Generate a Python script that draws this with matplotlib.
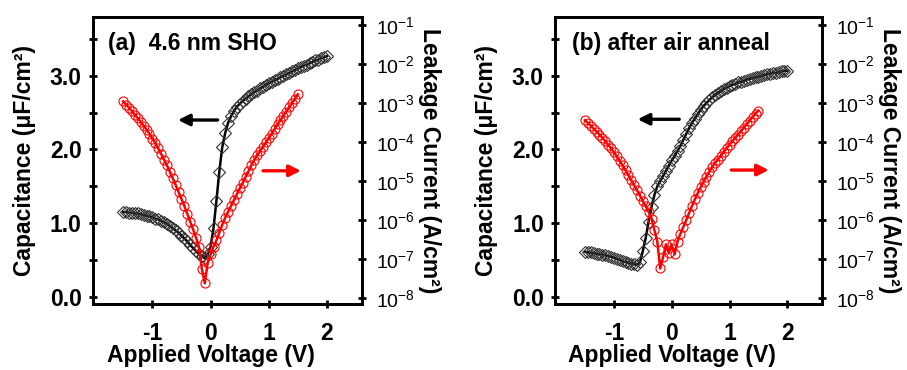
import numpy as np
import matplotlib
matplotlib.use("Agg")
import matplotlib.pyplot as plt
from matplotlib.ticker import MultipleLocator, FixedLocator, NullLocator, FormatStrFormatter, FuncFormatter

plt.rcParams['font.family'] = ['Liberation Sans', 'DejaVu Sans']
plt.rcParams['mathtext.fontset'] = 'custom'
plt.rcParams['mathtext.rm'] = 'Liberation Sans'
plt.rcParams['mathtext.default'] = 'regular'

# ---- (a) 4.6 nm SHO ----
v_cv_a = np.round(np.arange(-1.50, 2.001, 0.05), 2)
cap_a = [1.15, 1.15, 1.14, 1.14, 1.13, 1.13, 1.12, 1.11, 1.10, 1.09,
         1.08, 1.06, 1.05, 1.03, 1.01, 0.99, 0.96, 0.93, 0.90, 0.87,
         0.83, 0.79, 0.75, 0.70, 0.66, 0.62, 0.58, 0.55, 0.52, 0.58,
         0.68, 0.93, 1.30, 1.70, 2.03, 2.22, 2.36, 2.45, 2.52, 2.58,
         2.62, 2.66, 2.69, 2.72, 2.75, 2.78, 2.80, 2.83, 2.85, 2.88,
         2.90, 2.92, 2.94, 2.96, 2.98, 3.00, 3.02, 3.04, 3.06, 3.08,
         3.10, 3.12, 3.14, 3.15, 3.17, 3.19, 3.21, 3.22, 3.24, 3.25,
         3.27]
v_iv_a = np.round(np.arange(-1.50, 1.501, 0.05), 2)
logj_a = [-2.96, -3.04, -3.12, -3.21, -3.30, -3.39, -3.48, -3.58, -3.68, -3.79,
          -3.91, -4.03, -4.16, -4.30, -4.45, -4.60, -4.76, -4.93, -5.10, -5.28,
          -5.46, -5.64, -5.84, -6.04, -6.24, -6.45, -6.68, -7.25, -7.62, -7.10,
          -6.88, -6.68, -6.52, -6.32, -6.12, -5.94, -5.79, -5.64, -5.49, -5.34,
          -5.19, -5.05, -4.90, -4.75, -4.60, -4.46, -4.34, -4.23, -4.12, -4.01,
          -3.90, -3.79, -3.67, -3.55, -3.44, -3.33, -3.22, -3.11, -3.00, -2.89,
          -2.78]

# ---- (b) after air anneal ----
v_cv_b = np.round(np.arange(-1.50, 2.001, 0.05), 2)
cap_b = [0.61, 0.60, 0.60, 0.59, 0.58, 0.58, 0.57, 0.56, 0.55, 0.54,
         0.53, 0.51, 0.50, 0.48, 0.47, 0.46, 0.45, 0.44, 0.43, 0.47,
         0.62, 0.80, 1.02, 1.22, 1.38, 1.50, 1.57, 1.64, 1.71, 1.78,
         1.85, 1.91, 1.98, 2.05, 2.13, 2.21, 2.29, 2.36, 2.42, 2.48,
         2.54, 2.59, 2.63, 2.67, 2.71, 2.74, 2.77, 2.79, 2.82, 2.84,
         2.86, 2.88, 2.89, 2.91, 2.92, 2.93, 2.95, 2.96, 2.97, 2.98,
         2.99, 3.00, 3.01, 3.02, 3.03, 3.04, 3.04, 3.05, 3.06, 3.07,
         3.07]
v_iv_b = np.round(np.arange(-1.50, 1.501, 0.05), 2)
logj_b = [-3.44, -3.51, -3.58, -3.66, -3.73, -3.81, -3.89, -3.98, -4.07, -4.16,
          -4.26, -4.37, -4.48, -4.60, -4.72, -4.85, -4.98, -5.11, -5.24, -5.37,
          -5.51, -5.65, -5.79, -5.96, -6.25, -6.55, -7.24, -6.95, -6.62, -6.85,
          -6.62, -6.88, -6.55, -6.35, -6.18, -6.00, -5.82, -5.64, -5.47, -5.31,
          -5.16, -5.02, -4.89, -4.76, -4.64, -4.54, -4.45, -4.35, -4.25, -4.16,
          -4.07, -3.98, -3.89, -3.81, -3.72, -3.63, -3.54, -3.45, -3.36, -3.27,
          -3.20]

x_ticks = [-1, 0, 1, 2]
decades = [-8, -7, -6, -5, -4, -3, -2, -1]

RED = '#ff0000'
FS = 16.5

panels = [
    dict(left=0.1025, width=0.2966, title='(a)  4.6 nm SHO', tx=0.056, xl=0.44,
         v_cv=v_cv_a, cap=cap_a, v_iv=v_iv_a, logj=logj_a,
         black_arrow=((0.12, 2.40), (-0.56, 2.40)),
         red_arrow=((0.90, 1.71), (1.55, 1.71))),
    dict(left=0.6119, width=0.2944, title='(b) after air anneal', tx=0.063, xl=0.438,
         v_cv=v_cv_b, cap=cap_b, v_iv=v_iv_b, logj=logj_b,
         black_arrow=((0.13, 2.41), (-0.59, 2.41)),
         red_arrow=((1.03, 1.72), (1.68, 1.72))),
]

fig = plt.figure(figsize=(9.07, 3.70), dpi=100)

for p in panels:
    ax = fig.add_axes([p['left'], 0.1784, p['width'], 0.7757])
    ax2 = ax.twinx()

    ax.plot(p['v_cv'], p['cap'], color='black', lw=1.8, marker='D', ms=6.5,
            mfc='none', mec='#333333', mew=0.8, zorder=3)
    j = 10.0 ** np.asarray(p['logj'])
    ax2.plot(p['v_iv'], j, color=RED, lw=1.8, marker='o', ms=6.5,
             mfc='none', mec=RED, mew=0.8, zorder=3)

    ax.set_xlim(-2.02, 2.6)
    ax.set_ylim(-0.1, 3.8)
    ax2.set_yscale('log')
    ax2.set_ylim(10 ** -8.15, 10 ** -0.795)

    ax.xaxis.set_major_locator(FixedLocator(x_ticks))
    ax.xaxis.set_major_formatter(FormatStrFormatter('%g'))
    ax.yaxis.set_major_locator(MultipleLocator(1.0))
    ax.yaxis.set_minor_locator(MultipleLocator(0.5))
    ax.yaxis.set_major_formatter(FormatStrFormatter('%.1f'))
    ax2.yaxis.set_major_locator(FixedLocator([10.0 ** d for d in decades]))
    ax2.yaxis.set_minor_locator(NullLocator())
    ax2.yaxis.set_major_formatter(
        FuncFormatter(lambda y, pos: r'$10^{%d}$' % int(round(np.log10(y)))))

    for a in (ax, ax2):
        for s in a.spines.values():
            s.set_linewidth(2.0)

    ax.tick_params(axis='both', which='both', direction='inout', length=6,
                   width=2.0, labelsize=FS, top=False, right=False)
    ax.tick_params(axis='x', pad=10)
    ax.tick_params(axis='y', pad=5)
    ax2.tick_params(axis='y', which='both', direction='inout', length=6,
                    width=2.0, labelsize=14, pad=7)
    for lab in ax.get_xticklabels() + ax.get_yticklabels():
        lab.set_fontweight('bold')

    ax.set_xlabel('Applied Voltage (V)', fontsize=FS, fontweight='bold')
    ax.xaxis.set_label_coords(p['xl'], -0.141)
    ax.xaxis.label.set_va('top')
    ax.set_ylabel('Capacitance (μF/cm²)', fontsize=FS, fontweight='bold', labelpad=10)
    ax2.set_ylabel('Leakage Current (A/cm²)', fontsize=FS, fontweight='bold',
                   rotation=270, va='bottom', labelpad=2)

    ax.text(p['tx'], 0.909, p['title'], transform=ax.transAxes, fontsize=FS,
            fontweight='bold', ha='left', va='center')

    (bx0, by0), (bx1, by1) = p['black_arrow']
    ax.annotate('', xy=(bx1, by1), xytext=(bx0, by0),
                arrowprops=dict(arrowstyle='-|>', color='black', lw=2.4,
                                mutation_scale=17, shrinkA=0, shrinkB=0))
    (rx0, ry0), (rx1, ry1) = p['red_arrow']
    ax.annotate('', xy=(rx1, ry1), xytext=(rx0, ry0),
                arrowprops=dict(arrowstyle='-|>', color=RED, lw=2.4,
                                mutation_scale=17, shrinkA=0, shrinkB=0))

fig.savefig('out.png', dpi=100)
